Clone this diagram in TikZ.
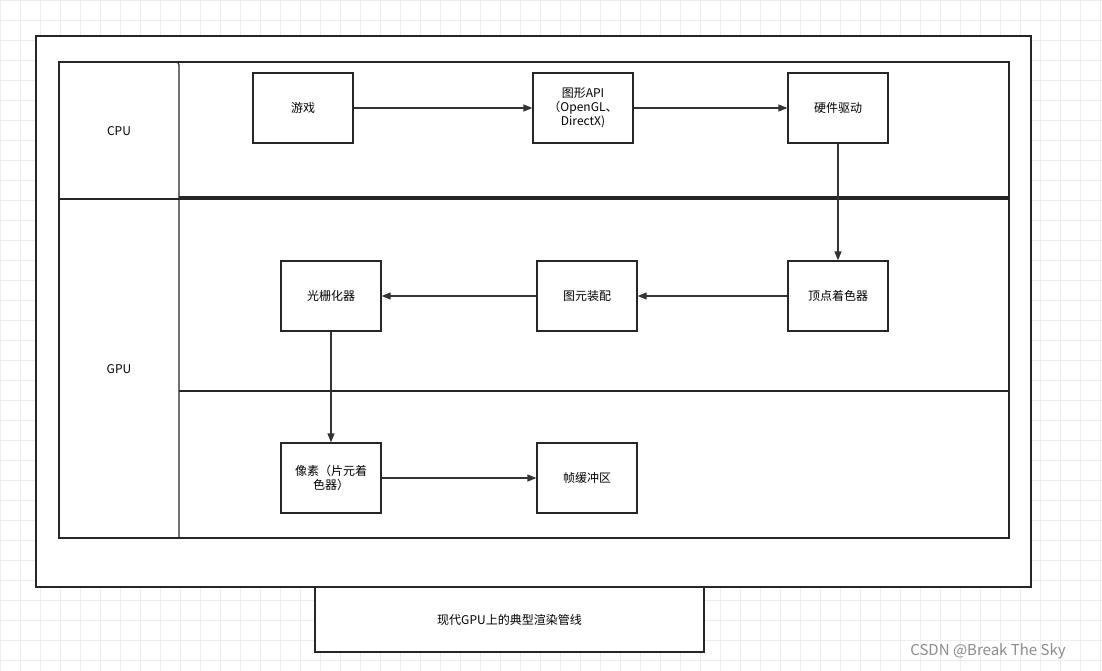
\documentclass[tikz,border=0pt]{standalone}
\usepackage{fontspec}
\setmainfont{Noto Sans CJK SC}
\usetikzlibrary{arrows.meta}
\begin{document}
\begin{tikzpicture}[x=1pt,y=-1pt,
  box/.style={draw=black!85,line width=1.2pt,minimum width=100pt,minimum height=70pt,
    inner sep=2pt,align=center,font=\fontsize{12}{14}\selectfont},
  lane/.style={draw=black!85,line width=1.2pt},
  arr/.style={-{Triangle[length=9pt,width=7pt]},draw=black!80,line width=1.2pt},
  lbl/.style={font=\fontsize{12}{14}\selectfont}]
\useasboundingbox (0,0) rectangle (1102,671);
\fill[white] (0,0) rectangle (1102,671);
\foreach \i in {0,20,...,1100} \draw[black!7] (\i,0) -- (\i,671);
\foreach \j in {0,20,...,660} \draw[black!7] (0,\j) -- (1102,\j);
% containers
\draw[lane,fill=white] (36,36) rectangle (1031,587);
\draw[lane,fill=white] (315,587) rectangle (704,652);
\node[lbl] (title) at (509.5,620) {现代GPU上的典型渲染管线};
\draw[lane] (59,62) rectangle (1009,538);
\draw[lane] (59,199) -- (1009,199);
\draw[lane,rounded corners=3pt] (170,62) -- (179,62) -- (179,538);
\draw[lane] (179,197) -- (1009,197);
\draw[lane] (179,391) -- (1009,391);
\node[lbl] (cpu) at (119,131) {CPU};
\node[lbl] (gpu) at (119,369) {GPU};
% nodes
\node[box] (game) at (303,108) {游戏};
\node[box] (api) at (583,108) {图形API\\（OpenGL、\\DirectX)};
\node[box] (drv) at (838,108) {硬件驱动};
\node[box] (vs) at (838,296) {顶点着色器};
\node[box] (pa) at (587,296) {图元装配};
\node[box] (ras) at (331,296) {光栅化器};
\node[box] (ps) at (331,478) {像素（片元着\\色器）};
\node[box] (fb) at (587,478) {帧缓冲区};
% connectors
\draw[arr] (game) -- (api);
\draw[arr] (api) -- (drv);
\draw[arr] (drv) -- (vs);
\draw[arr] (vs) -- (pa);
\draw[arr] (pa) -- (ras);
\draw[arr] (ras) -- (ps);
\draw[arr] (ps) -- (fb);
\node[font=\fontsize{15}{17}\selectfont,text=black!45] (wm) at (988,651) {CSDN @Break The Sky};
\end{tikzpicture}
\end{document}
